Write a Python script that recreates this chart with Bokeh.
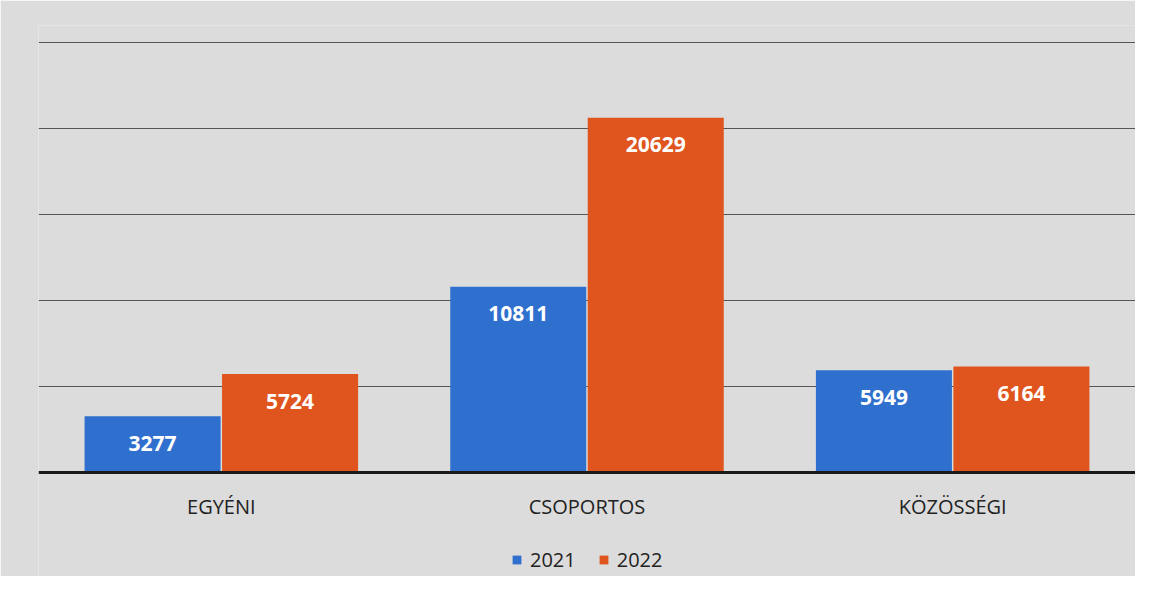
from bokeh.plotting import figure
from bokeh.models import ColumnDataSource, FactorRange, LabelSet, Legend, LegendItem, Span
from bokeh.core.properties import value
from bokeh.transform import dodge
from bokeh.embed import file_html
from bokeh.resources import INLINE

categories = ["EGYÉNI", "CSOPORTOS", "KÖZÖSSÉGI"]
years = ["2021", "2022"]
values_2021 = [3277, 10811, 5949]
values_2022 = [5724, 20629, 6164]
colors = {"2021": "#2f6fcd", "2022": "#e0551e"}

src = ColumnDataSource(dict(
    cat=categories,
    zero=[0] * len(categories),
    v2021=values_2021,
    v2022=values_2022,
    t2021=[str(v) for v in values_2021],
    t2022=[str(v) for v in values_2022],
))

BG = "#dcdcdc"
# frame extends below zero so the category labels and legend sit inside it
p = figure(frame_width=1097, frame_height=551, x_range=FactorRange(*categories), y_range=(-6049, 26000),
           output_backend="svg", toolbar_location=None,
           min_border_left=38, min_border_right=0, min_border_top=25, min_border_bottom=0)
p.background_fill_color = BG
p.border_fill_color = BG
p.outline_line_color = None
p.x_range.range_padding = 0
p.xaxis.visible = False
p.yaxis.visible = False

p.ygrid.ticker = [5000, 10000, 15000, 20000, 25000]
p.ygrid.grid_line_color = "#555555"
p.ygrid.grid_line_width = 1
p.xgrid.grid_line_color = None

w = 0.372
r1 = p.vbar(x=dodge("cat", -0.188, range=p.x_range), top="v2021", width=w, source=src,
            fill_color=colors["2021"], line_color=None)
r2 = p.vbar(x=dodge("cat", 0.188, range=p.x_range), top="v2022", width=w, source=src,
            fill_color=colors["2022"], line_color=None)

p.add_layout(Span(location=0, dimension="width", line_color="#1a1a1a", line_width=3))

for col, off in (("2021", -0.188), ("2022", 0.188)):
    lab = LabelSet(x=dodge("cat", off, range=p.x_range), y="v" + col, text="t" + col,
                   source=src, y_offset=-27, text_align="center", text_baseline="middle",
                   text_color="white", text_font=value("Open Sans"), text_font_style="bold",
                   text_font_size="21px")
    p.add_layout(lab)

cat_labels = LabelSet(x="cat", y="zero", text="cat", source=src, y_offset=-34,
                      text_align="center", text_baseline="middle", text_color="#222222",
                      text_font=value("Open Sans"), text_font_size="20px")
p.add_layout(cat_labels)

legend = Legend(items=[LegendItem(label="2021", renderers=[r1]),
                       LegendItem(label="2022", renderers=[r2])],
                orientation="horizontal", location=(473, 3))
legend.background_fill_alpha = 0
legend.border_line_color = None
legend.label_text_font = "Open Sans"
legend.label_text_font_size = "20px"
legend.label_text_color = "#222222"
legend.glyph_width = 11
legend.glyph_height = 11
legend.spacing = 22
legend.label_standoff = 8
legend.margin = 0
legend.padding = 5
p.add_layout(legend)

open("out.html", "w").write(file_html(p, INLINE))
